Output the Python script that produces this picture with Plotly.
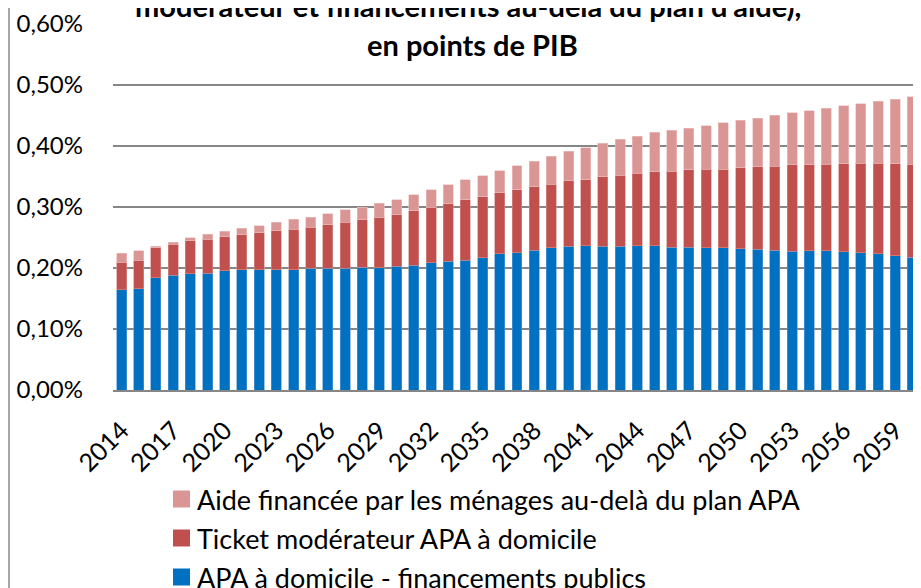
import plotly.graph_objects as go

years = list(range(2014, 2061))

# cumulative tops (in % of GDP)
blue_top = [0.1646, 0.1656, 0.1843, 0.1885, 0.1902, 0.1918, 0.1951, 0.1974, 0.1974, 0.1974,
            0.1974, 0.1995, 0.2000, 0.2000, 0.2016, 0.2007, 0.2028, 0.2049, 0.2088, 0.2110,
            0.2126, 0.2170, 0.2230, 0.2252, 0.2295, 0.2328, 0.2356, 0.2367, 0.2356, 0.2356,
            0.2367, 0.2364, 0.2344, 0.2344, 0.2333, 0.2333, 0.2317, 0.2311, 0.2295, 0.2273,
            0.2279, 0.2279, 0.2268, 0.2252, 0.2236, 0.2203, 0.2180]
red_top = [0.2098, 0.2131, 0.2328, 0.2389, 0.2443, 0.2475, 0.2515, 0.2548, 0.2580, 0.2607,
           0.2639, 0.2672, 0.2711, 0.2754, 0.2787, 0.2836, 0.2869, 0.2940, 0.3000, 0.3056,
           0.3115, 0.3170, 0.3230, 0.3279, 0.3328, 0.3377, 0.3433, 0.3449, 0.3492, 0.3520,
           0.3552, 0.3575, 0.3590, 0.3607, 0.3623, 0.3623, 0.3640, 0.3656, 0.3672, 0.3689,
           0.3689, 0.3705, 0.3711, 0.3721, 0.3721, 0.3711, 0.3705]
pink_top = [0.2241, 0.2285, 0.2356, 0.2426, 0.2498, 0.2552, 0.2602, 0.2651, 0.2695, 0.2749,
            0.2798, 0.2836, 0.2892, 0.2951, 0.3000, 0.3061, 0.3115, 0.3203, 0.3279, 0.3367,
            0.3443, 0.3514, 0.3597, 0.3678, 0.3749, 0.3831, 0.3913, 0.3974, 0.4044, 0.4110,
            0.4164, 0.4222, 0.4257, 0.4295, 0.4334, 0.4383, 0.4421, 0.4459, 0.4503, 0.4547,
            0.4580, 0.4618, 0.4662, 0.4695, 0.4733, 0.4770, 0.4809]

apa_public = [round(b, 4) for b in blue_top]
ticket_mod = [round(r - b, 4) for r, b in zip(red_top, blue_top)]
aide_menages = [round(p - r, 4) for p, r in zip(pink_top, red_top)]

series_names = ["APA à domicile - financements publics",
                "Ticket modérateur APA à domicile",
                "Aide financée par les ménages au-delà du plan APA"]
series_values = [apa_public, ticket_mod, aide_menages]
colors = ["#0070C0", "#C0504D", "#D99694"]
edge_colors = ["#5B9BD5", "#D9908E", "#EBC3C2"]

tick_years = list(range(2014, 2061, 3))
title_lines = ["modérateur et financements au-delà du plan d'aide),", "en points de PIB"]

FONT = "Lato, Roboto, sans-serif"

fig = go.Figure()
for name, vals, c, ec in zip(series_names, series_values, colors, edge_colors):
    fig.add_trace(go.Bar(x=years, y=vals, name=name,
                         marker=dict(color=c, line=dict(color=ec, width=0.6)),
                         showlegend=False))

# page is offset by the default 8px body margin
OFF = 8
W, H = 921, 588
# plot area in page pixels
PL, PR, PT, PB = 113, 921, 24, 390
L, T = PL - OFF, PT - OFF
R = W - (PR - OFF)
B = H - (PB - OFF)
ph = H - T - B
pw = W - L - R

def py(y):
    return ((PB - OFF) - (y - OFF)) / ph

def px(x):
    return ((x - OFF) - L) / pw

fig.update_layout(
    width=W, height=H,
    margin=dict(l=L, r=R, t=T, b=B, pad=0, autoexpand=False),
    barmode="stack", bargap=0.42,
    plot_bgcolor="white", paper_bgcolor="white",
    separators=", ",
    font=dict(family=FONT, size=24, color="black"),
    xaxis=dict(type="linear", range=[2013.5, 2060.5], tickmode="array", tickvals=tick_years,
               ticktext=[str(y) for y in tick_years], tickangle=-45, showgrid=False,
               showline=True, linecolor="#868686", linewidth=2, ticks="", ticklabelstandoff=14,
               tickfont=dict(size=25), automargin=False),
    yaxis=dict(range=[0, 0.6], dtick=0.1, tickformat=".2f", ticksuffix="%",
               showgrid=True, gridcolor="#868686", gridwidth=2, zeroline=False,
               showline=False, ticks="", ticklabelstandoff=29, tickfont=dict(size=24),
               automargin=False),
    showlegend=False,
)

# legend drawn as keys + labels (top to bottom: pink, red, blue)
legend_rows = [(2, 499), (1, 538), (0, 577)]
for idx, yc in legend_rows:
    fig.add_shape(type="rect", xref="paper", yref="paper",
                  x0=px(173), x1=px(190), y0=py(yc - 8.5), y1=py(yc + 8.5),
                  fillcolor=colors[idx], line=dict(width=0))
    fig.add_annotation(text=series_names[idx], xref="paper", yref="paper",
                       x=px(195), y=py(yc), xanchor="left", yanchor="middle", showarrow=False,
                       font=dict(size=27))

fig.add_annotation(text="<b>%s</b>" % title_lines[0], xref="paper", yref="paper",
                   x=px(468), y=py(6), xanchor="center", yanchor="middle", showarrow=False,
                   font=dict(size=29))
fig.add_annotation(text="<b>%s</b>" % title_lines[1], xref="paper", yref="paper",
                   x=px(472), y=py(45), xanchor="center", yanchor="middle", showarrow=False,
                   font=dict(size=29))
fig.add_shape(type="line", xref="paper", yref="paper", x0=px(9), x1=px(9), y0=py(0), y1=py(H + 10),
              line=dict(color="#A6A6A6", width=2))

fig.write_html("out.html")
